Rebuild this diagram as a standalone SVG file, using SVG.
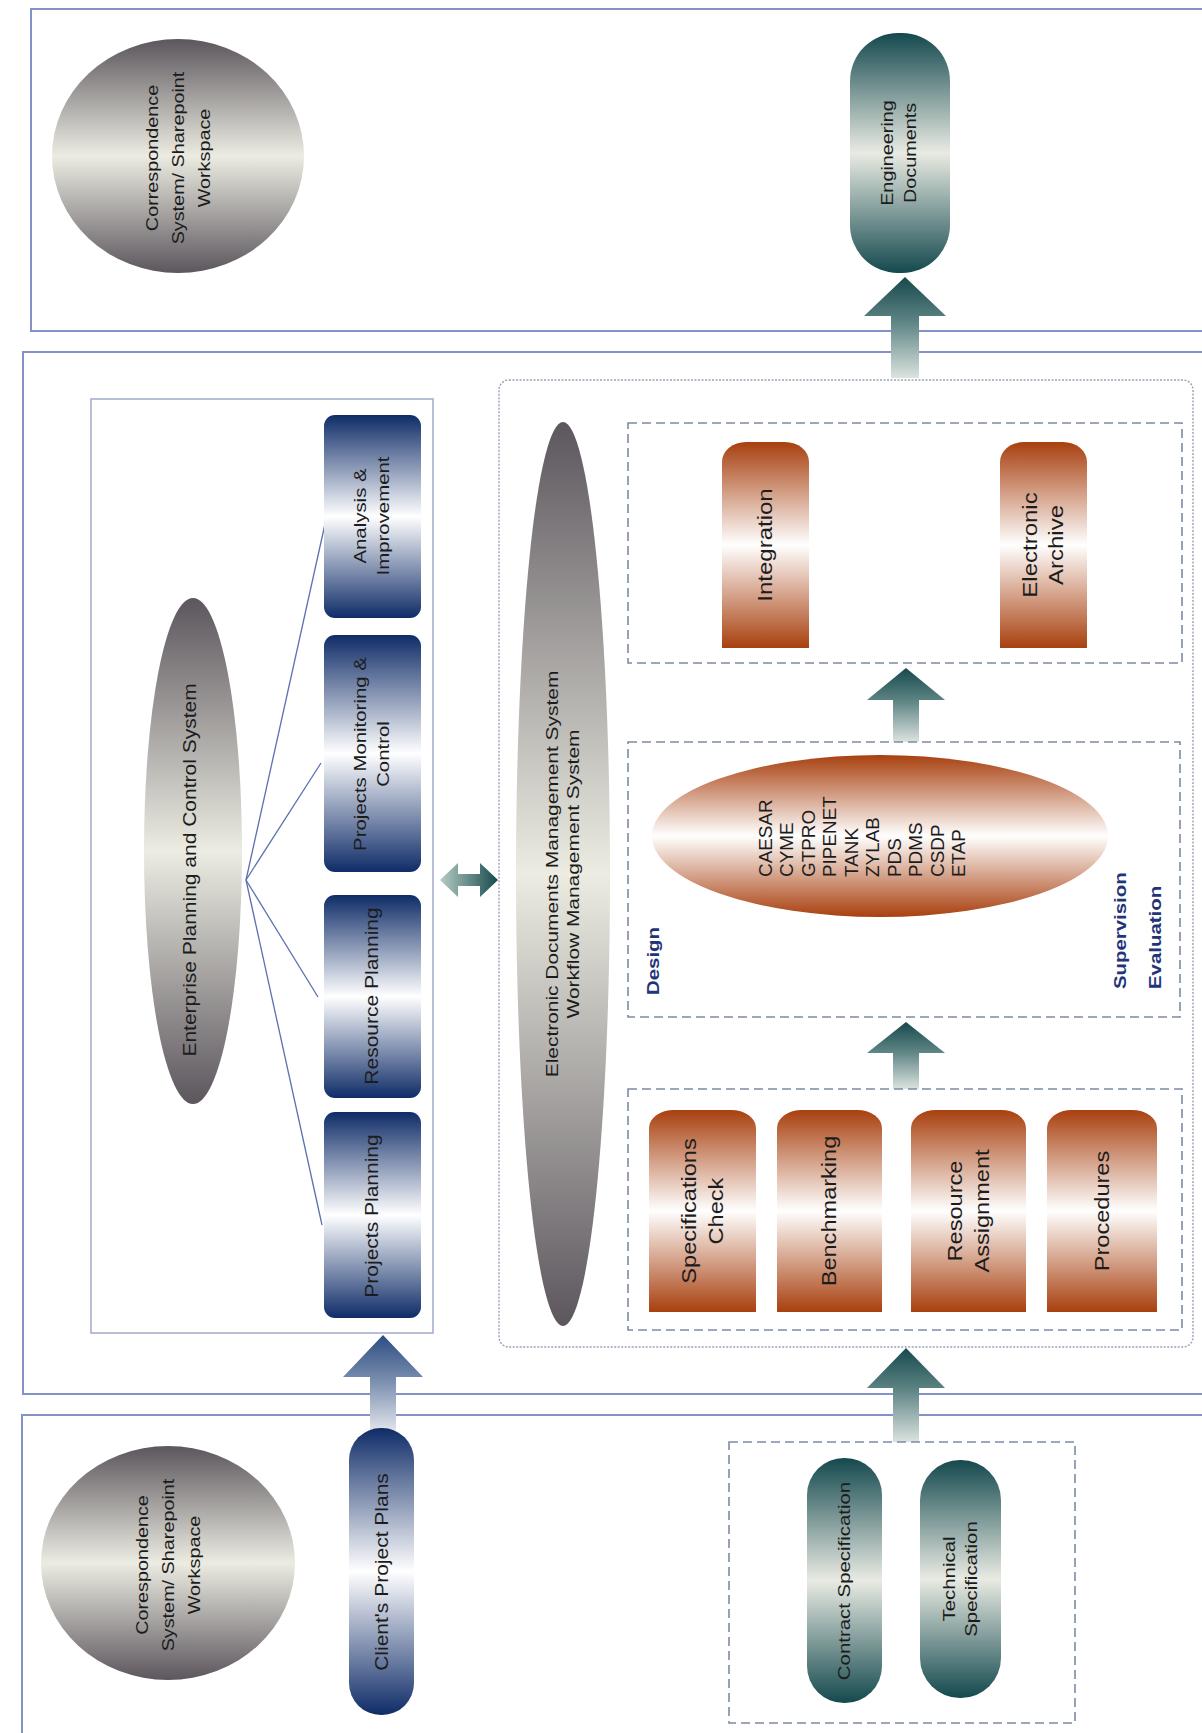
<svg xmlns="http://www.w3.org/2000/svg" width="1202" height="1733" viewBox="0 0 1202 1733">
<style>
.frame{fill:none;stroke:#8393c9;stroke-width:2}
.inner{fill:none;stroke:#a7b0cc;stroke-width:1.6}
.dash{fill:none;stroke:#7d8aa6;stroke-width:1.6;stroke-dasharray:9 5}
.dot{fill:none;stroke:#9aa2b4;stroke-width:1.4;stroke-dasharray:2 1.5}
.fan{stroke:#5a70b0;stroke-width:1.3;fill:none}
.t{font-family:"Liberation Sans",Arial,sans-serif;fill:#1c1c1c;text-anchor:middle}
.lab{font-family:"Liberation Sans",Arial,sans-serif;fill:#1f3577;font-weight:bold;font-size:17px}
</style>
<defs>
<linearGradient id="grey" x1="0" y1="0" x2="0" y2="1">
<stop offset="0" stop-color="#5c565d"/><stop offset="0.5" stop-color="#ecece2"/><stop offset="1" stop-color="#5c565d"/>
</linearGradient>
<linearGradient id="blue" x1="0" y1="0" x2="0" y2="1">
<stop offset="0" stop-color="#0f2c68"/><stop offset="0.5" stop-color="#ffffff"/><stop offset="1" stop-color="#0f2c68"/>
</linearGradient>
<linearGradient id="teal" x1="0" y1="0" x2="0" y2="1">
<stop offset="0" stop-color="#14494e"/><stop offset="0.5" stop-color="#e9ebe3"/><stop offset="1" stop-color="#14494e"/>
</linearGradient>
<linearGradient id="rust" x1="0" y1="0" x2="0" y2="1">
<stop offset="0" stop-color="#a8400f"/><stop offset="0.5" stop-color="#ffffff"/><stop offset="1" stop-color="#a8400f"/>
</linearGradient>
<linearGradient id="arrT" x1="0" y1="0" x2="0" y2="1">
<stop offset="0" stop-color="#17494d"/><stop offset="0.45" stop-color="#5f8585"/><stop offset="1" stop-color="#dbe3df"/>
</linearGradient>
<linearGradient id="arrB" x1="0" y1="0" x2="0" y2="1">
<stop offset="0" stop-color="#2c4c82"/><stop offset="0.5" stop-color="#7d91b0"/><stop offset="1" stop-color="#dfe3ea"/>
</linearGradient>
<linearGradient id="arrH" x1="0" y1="0" x2="1" y2="0">
<stop offset="0" stop-color="#b7cbc4"/><stop offset="1" stop-color="#17494d"/>
</linearGradient>
</defs>

<!-- frames -->
<g id="frames">
<path class="frame" d="M1215,9 H31 V331 H1215"/>
<path class="frame" d="M1215,352 H23 V1394 H1215"/>
<path class="frame" d="M1215,1415 H22 V1745"/>
</g>

<!-- connectors -->
<g id="connectors">
<line class="fan" x1="246" y1="880" x2="325" y2="524"/>
<line class="fan" x1="246" y1="880" x2="321" y2="763"/>
<line class="fan" x1="246" y1="880" x2="318" y2="997"/>
<line class="fan" x1="246" y1="880" x2="322" y2="1225"/>
<path fill="url(#arrB)" d="M383,1335 L423,1377 L396,1377 L396,1430 L370,1430 L370,1377 L343,1377 Z"/>
<path fill="url(#arrT)" d="M906,1348 L945,1388 L919,1388 L919,1442 L893,1442 L893,1388 L867,1388 Z"/>
<path fill="url(#arrT)" d="M906,1022 L945,1053 L919,1053 L919,1089 L893,1089 L893,1053 L867,1053 Z"/>
<path fill="url(#arrT)" d="M906,668 L945,700 L919,700 L919,742 L893,742 L893,700 L867,700 Z"/>
<path fill="url(#arrT)" d="M905,277 L946,316 L919,316 L919,378 L891,378 L891,316 L864,316 Z"/>
<path fill="url(#arrH)" d="M440,880 L458,863 L458,874 L480,874 L480,863 L498,880 L480,897 L480,886 L458,886 L458,897 Z"/>
</g>

<!-- top region -->
<g id="corr-top">
<ellipse cx="178" cy="156" rx="126" ry="117" fill="url(#grey)"/>
<text class="t" font-size="16.5" transform="translate(178,158) rotate(-90) scale(1.2,1)"><tspan x="0" y="-20">Correspondence</tspan><tspan x="0" y="6">System/ Sharepoint</tspan><tspan x="0" y="32">Workspace</tspan></text>
</g>
<g id="eng-docs">
<rect x="850" y="33" width="100" height="240" rx="48" ry="48" fill="url(#teal)"/>
<text class="t" font-size="16.5" transform="translate(900,153) rotate(-90) scale(1.2,1)"><tspan x="0" y="-7">Engineering</tspan><tspan x="0" y="16">Documents</tspan></text>
</g>

<!-- Enterprise planning -->
<g id="epcs-box"><rect class="inner" x="91" y="399" width="342" height="934"/></g>
<g id="epcs">
<ellipse cx="193" cy="851" rx="49" ry="253" fill="url(#grey)"/>
<text class="t" font-size="17.5" transform="translate(196,870) rotate(-90) scale(1.2,1)"><tspan x="0" y="0">Enterprise Planning and Control System</tspan></text>
</g>
<g id="analysis">
<rect x="324" y="415" width="97" height="203" rx="11" fill="url(#blue)"/>
<text class="t" font-size="17" transform="translate(372,516) rotate(-90) scale(1.2,1)"><tspan x="0" y="-6">Analysis &amp;</tspan><tspan x="0" y="17">Improvement</tspan></text>
</g>
<g id="monitoring">
<rect x="324" y="635" width="97" height="237" rx="11" fill="url(#blue)"/>
<text class="t" font-size="17" transform="translate(372,754) rotate(-90) scale(1.2,1)"><tspan x="0" y="-6">Projects Monitoring &amp;</tspan><tspan x="0" y="17">Control</tspan></text>
</g>
<g id="resource-planning">
<rect x="324" y="895" width="97" height="203" rx="11" fill="url(#blue)"/>
<text class="t" font-size="17.5" transform="translate(372,996) rotate(-90) scale(1.2,1)"><tspan x="0" y="6">Resource Planning</tspan></text>
</g>
<g id="projects-planning">
<rect x="324" y="1112" width="97" height="206" rx="11" fill="url(#blue)"/>
<text class="t" font-size="17.5" transform="translate(372,1216) rotate(-90) scale(1.2,1)"><tspan x="0" y="6">Projects Planning</tspan></text>
</g>

<!-- EDMS -->
<g id="edms-box"><rect class="dot" x="499" y="380" width="694" height="967" rx="10"/></g>
<g id="edms">
<ellipse cx="563" cy="874" rx="47" ry="452" fill="url(#grey)"/>
<text class="t" font-size="17" transform="translate(563,874) rotate(-90) scale(1.23,1)"><tspan x="0" y="-5">Electronic Documents Management System</tspan><tspan x="0" y="16">Workflow Management System</tspan></text>
</g>

<g id="output-box"><rect class="dash" x="628" y="423" width="554" height="240"/></g>
<g id="integration">
<path fill="url(#rust)" d="M722,648 V462 A24 20 0 0 1 746,442 H785 A24 20 0 0 1 809,462 V648 Z"/>
<text class="t" font-size="20" transform="translate(765,545) rotate(-90) scale(1.2,1)"><tspan x="0" y="7">Integration</tspan></text>
</g>
<g id="archive">
<path fill="url(#rust)" d="M1000,648 V462 A24 20 0 0 1 1024,442 H1063 A24 20 0 0 1 1087,462 V648 Z"/>
<text class="t" font-size="20" transform="translate(1043,545) rotate(-90) scale(1.2,1)"><tspan x="0" y="-6">Electronic</tspan><tspan x="0" y="20">Archive</tspan></text>
</g>

<g id="design-box"><rect class="dash" x="628" y="742" width="552" height="275"/></g>
<g id="design-tools">
<ellipse cx="880" cy="836" rx="228" ry="81" fill="url(#rust)"/>
<text class="t" font-size="17.5" style="text-anchor:start" transform="translate(772,877) rotate(-90) scale(1.08,1)"><tspan x="0" y="0">CAESAR</tspan><tspan x="0" y="21.5">CYME</tspan><tspan x="0" y="43">GTPRO</tspan><tspan x="0" y="64.5">PIPENET</tspan><tspan x="0" y="86">TANK</tspan><tspan x="0" y="107.5">ZYLAB</tspan><tspan x="0" y="129">PDS</tspan><tspan x="0" y="150.5">PDMS</tspan><tspan x="0" y="172">CSDP</tspan><tspan x="0" y="193.5">ETAP</tspan></text>
</g>
<g id="labels">
<text class="lab" transform="translate(659,995) rotate(-90) scale(1.2,1)">Design</text>
<text class="lab" transform="translate(1126,989) rotate(-90) scale(1.2,1)">Supervision</text>
<text class="lab" transform="translate(1161,989) rotate(-90) scale(1.2,1)">Evaluation</text>
</g>

<g id="input-box"><rect class="dash" x="628" y="1089" width="554" height="241"/></g>
<g id="spec-check">
<path fill="url(#rust)" d="M649,1312 V1128 A25 18 0 0 1 674,1110 H731 A25 18 0 0 1 756,1128 V1312 Z"/>
<text class="t" font-size="20.5" transform="translate(702,1211) rotate(-90) scale(1.15,1)"><tspan x="0" y="-6">Specifications</tspan><tspan x="0" y="21">Check</tspan></text>
</g>
<g id="benchmarking">
<path fill="url(#rust)" d="M777,1312 V1128 A25 18 0 0 1 802,1110 H857 A25 18 0 0 1 882,1128 V1312 Z"/>
<text class="t" font-size="20.5" transform="translate(829,1211) rotate(-90) scale(1.15,1)"><tspan x="0" y="7">Benchmarking</tspan></text>
</g>
<g id="resource-assignment">
<path fill="url(#rust)" d="M911,1312 V1128 A25 18 0 0 1 936,1110 H1001 A25 18 0 0 1 1026,1128 V1312 Z"/>
<text class="t" font-size="20.5" transform="translate(968,1211) rotate(-90) scale(1.15,1)"><tspan x="0" y="-6">Resource</tspan><tspan x="0" y="21">Assignment</tspan></text>
</g>
<g id="procedures">
<path fill="url(#rust)" d="M1047,1312 V1128 A25 18 0 0 1 1072,1110 H1132 A25 18 0 0 1 1157,1128 V1312 Z"/>
<text class="t" font-size="20.5" transform="translate(1102,1211) rotate(-90) scale(1.15,1)"><tspan x="0" y="7">Procedures</tspan></text>
</g>

<!-- bottom region -->
<g id="corr-bottom">
<ellipse cx="168" cy="1563" rx="127" ry="117" fill="url(#grey)"/>
<text class="t" font-size="16.5" transform="translate(168,1565) rotate(-90) scale(1.2,1)"><tspan x="0" y="-20">Corespondence</tspan><tspan x="0" y="6">System/ Sharepoint</tspan><tspan x="0" y="32">Workspace</tspan></text>
</g>
<g id="client-plans">
<rect x="349" y="1428" width="65" height="287" rx="32" ry="32" fill="url(#blue)"/>
<text class="t" font-size="17.5" transform="translate(382,1572) rotate(-90) scale(1.2,1)"><tspan x="0" y="6">Client's Project Plans</tspan></text>
</g>
<g id="spec-box"><rect class="dash" x="729" y="1442" width="346" height="281"/></g>
<g id="contract-spec">
<rect x="807" y="1458" width="75" height="245" rx="37" ry="37" fill="url(#teal)"/>
<text class="t" font-size="17" transform="translate(844,1581) rotate(-90) scale(1.2,1)"><tspan x="0" y="6">Contract Specification</tspan></text>
</g>
<g id="technical-spec">
<rect x="920" y="1460" width="81" height="238" rx="40" ry="40" fill="url(#teal)"/>
<text class="t" font-size="17" transform="translate(960,1579) rotate(-90) scale(1.2,1)"><tspan x="0" y="-5">Technical</tspan><tspan x="0" y="17">Specification</tspan></text>
</g>
</svg>
